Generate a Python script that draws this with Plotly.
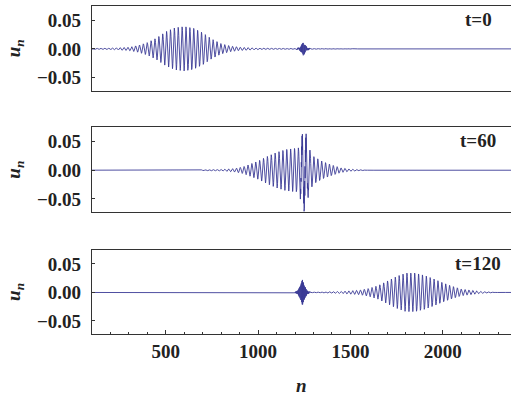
import numpy as np
import plotly.graph_objects as go

# ---- data ----
n_sites = np.arange(1, 2401)
carrier_period = 21.0          # oscillation period (sites) of broad packets

# t=0 broad packet envelope
env0_n = [100, 200, 300, 350, 400, 450, 500, 550, 600, 650, 700, 750, 800, 850, 900, 1000, 1100, 1200, 1300, 1400, 1500, 1550]
env0_a = [0.001, 0.0015, 0.003, 0.006, 0.011, 0.019, 0.03, 0.037, 0.039, 0.036, 0.028, 0.017, 0.009, 0.005, 0.003, 0.0015, 0.001, 0.001, 0.0008, 0.0006, 0.0004, 0.0]
# t=0 localized (staggered) mode
loc0_n = [1205, 1225, 1240, 1245, 1250, 1265, 1285]
loc0_a = [0.0, 0.002, 0.008, 0.011, 0.008, 0.002, 0.0]

# t=60 broad packet envelope
env1_n = [600, 700, 800, 870, 920, 960, 1000, 1050, 1100, 1150, 1200, 1230, 1300, 1350, 1400, 1450, 1500, 1600]
env1_a = [0.0, 0.0008, 0.0015, 0.003, 0.006, 0.011, 0.016, 0.024, 0.031, 0.036, 0.038, 0.037, 0.024, 0.015, 0.009, 0.004, 0.002, 0.0]
# t=60 collision spike (same carrier)
spk1_n = [1215, 1235, 1245, 1260, 1280, 1300]
spk1_a = [0.0, 0.01, 0.02, 0.017, 0.008, 0.0]
# t=60 localized (staggered) mode
loc1_n = [1220, 1240, 1250, 1260, 1280]
loc1_a = [0.0, 0.015, 0.02, 0.015, 0.0]

# t=120 broad packet envelope
env2_n = [1270, 1350, 1450, 1500, 1550, 1600, 1650, 1700, 1750, 1800, 1850, 1900, 1950, 2000, 2050, 2100, 2150, 2200, 2250, 2300]
env2_a = [0.0005, 0.001, 0.002, 0.003, 0.004, 0.007, 0.012, 0.02, 0.028, 0.034, 0.034, 0.03, 0.024, 0.017, 0.011, 0.006, 0.004, 0.002, 0.001, 0.0]
# t=120 localized (staggered) mode
loc2_n = [1195, 1215, 1230, 1240, 1250, 1265, 1285]
loc2_a = [0.0, 0.003, 0.012, 0.022, 0.012, 0.003, 0.0]

panel_labels = ["t=0", "t=60", "t=120"]
ytick_vals = [-0.05, 0.0, 0.05]
ytick_text = ["\u22120.05", "0.00", "0.05"]
xtick_vals = [500, 1000, 1500, 2000]
xtick_text = ["500", "1000", "1500", "2000"]


def envelope(nn, an):
    return np.interp(n_sites, nn, an, left=0.0, right=0.0)


carrier = np.cos(2 * np.pi * n_sites / carrier_period)
stagger = np.where(n_sites % 2 == 0, 1.0, -1.0)

u0 = envelope(env0_n, env0_a) * carrier + envelope(loc0_n, loc0_a) * stagger
u1 = (envelope(env1_n, env1_a) + envelope(spk1_n, spk1_a)) * carrier + envelope(loc1_n, loc1_a) * stagger
u2 = envelope(env2_n, env2_a) * carrier + envelope(loc2_n, loc2_a) * stagger
series = [u0, u1, u2]

# ---- figure ----
LINE = "#3b3b96"
FRAME = "#333333"
FONT = "Liberation Serif"

fig = go.Figure()
domains = [[0.742, 1.0], [0.3716, 0.6305], [0.0, 0.2568]]

for i, u in enumerate(series):
    xa = "x" if i == 0 else f"x{i+1}"
    ya = "y" if i == 0 else f"y{i+1}"
    fig.add_trace(go.Scatter(x=n_sites, y=u, mode="lines",
                             line=dict(color=LINE, width=0.9),
                             xaxis=xa, yaxis=ya, showlegend=False,
                             hoverinfo="skip"))
    xkey = "xaxis" if i == 0 else f"xaxis{i+1}"
    ykey = "yaxis" if i == 0 else f"yaxis{i+1}"
    bottom = (i == 2)
    xdict = dict(domain=[0, 1], range=[100, 2370], anchor=ya,
                 showgrid=False, zeroline=False,
                 showline=True, linecolor=FRAME, linewidth=1.2, mirror=True,
                 showticklabels=bottom)
    if bottom:
        xdict.update(tickvals=xtick_vals, ticktext=xtick_text,
                     ticks="inside", ticklen=4, tickcolor=FRAME,
                     tickfont=dict(family=FONT, size=19, color="#222", weight="bold"),
                     minor=dict(dtick=100, tick0=0, ticks="inside", ticklen=2, tickcolor=FRAME))
    else:
        xdict.update(ticks="")
    if i > 0:
        xdict["matches"] = "x"
    fig.layout[xkey] = xdict
    fig.layout[ykey] = dict(domain=domains[i], range=[-0.073, 0.075], anchor=xa,
                            showgrid=False, zeroline=False,
                            showline=True, linecolor=FRAME, linewidth=1.2, mirror=False,
                            tickvals=ytick_vals, ticktext=ytick_text,
                            ticks="inside", ticklen=3, tickcolor=FRAME,
                            ticklabelstandoff=6,
                            tickfont=dict(family=FONT, size=19, color="#222", weight="bold"))
    # panel label
    fig.add_annotation(text=f"<b>{panel_labels[i]}</b>", xref="paper", yref=f"{ya} domain",
                       x=(478 - 92) / 419, y=0.84, xanchor="center", yanchor="middle",
                       showarrow=False, font=dict(family=FONT, size=19, color="#222"))
    # y label
    fig.add_annotation(text="<b><i>u</i></b><sub><b><i>n</i></b></sub>", xref="paper",
                       yref=f"{ya} domain", x=(15 - 92) / 419, y=0.5,
                       xanchor="center", yanchor="middle", textangle=-90,
                       showarrow=False, font=dict(family=FONT, size=19, color="#222"))

fig.add_annotation(text="<b><i>n</i></b>", xref="paper", yref="paper",
                   x=(301 - 92) / 419, y=(334 - 385) / 328,
                   xanchor="center", yanchor="middle", showarrow=False,
                   font=dict(family=FONT, size=19, color="#222"))

fig.update_layout(width=511, height=400,
                  margin=dict(l=92, r=0, t=6, b=66),
                  paper_bgcolor="white", plot_bgcolor="white")

fig.write_html("out.html", config={"displayModeBar": False},
               post_script="document.body.style.margin='0';document.body.style.overflow='hidden';")
